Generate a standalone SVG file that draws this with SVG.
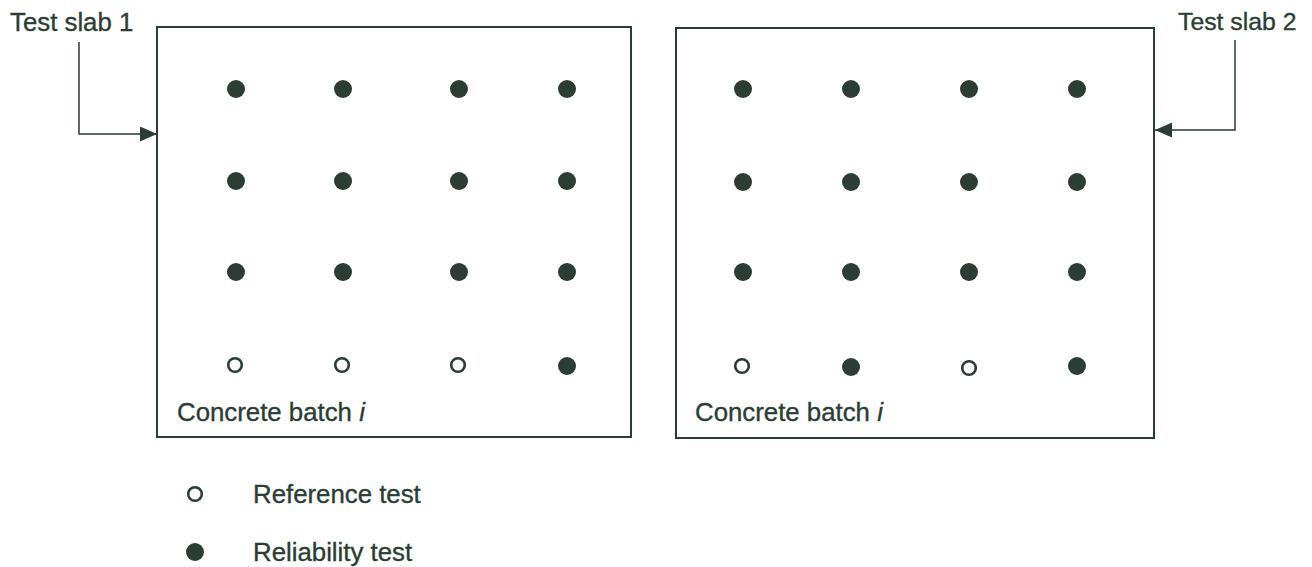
<svg xmlns="http://www.w3.org/2000/svg" width="1312" height="567" viewBox="0 0 1312 567">
  <defs>
    <style>
      .slab { fill: none; stroke: #2b3d35; stroke-width: 2; }
      .lbl { font-family: "Liberation Sans", Arial, sans-serif; font-size: 25.8px; fill: #2b3d35; stroke: #2b3d35; stroke-width: 0.35; }
      .rel { fill: #2b3d35; }
      .ref { fill: #ffffff; stroke: #2b3d35; stroke-width: 2.6; }
      .lead { fill: none; stroke: #2b3d35; stroke-width: 1.5; }
    </style>
    <marker id="ah" markerWidth="17" markerHeight="15" refX="17" refY="7.5" orient="auto" markerUnits="userSpaceOnUse">
      <path d="M0,0 L17,7.5 L0,15 Z" fill="#2b3d35"/>
    </marker>
  </defs>
  <rect width="1312" height="567" fill="#ffffff"/>

  <!-- Test slab 1 -->
  <g id="slab1">
    <rect class="slab" x="157" y="27" width="474" height="410"/>
    <g>
      <circle class="rel" cx="236" cy="89" r="9"/><circle class="rel" cx="343" cy="89" r="9"/><circle class="rel" cx="459" cy="89" r="9"/><circle class="rel" cx="567" cy="89" r="9"/>
      <circle class="rel" cx="236" cy="181" r="9"/><circle class="rel" cx="343" cy="181" r="9"/><circle class="rel" cx="459" cy="181" r="9"/><circle class="rel" cx="567" cy="181" r="9"/>
      <circle class="rel" cx="236" cy="272" r="9"/><circle class="rel" cx="343" cy="272" r="9"/><circle class="rel" cx="459" cy="272" r="9"/><circle class="rel" cx="567" cy="272" r="9"/>
      <circle class="ref" cx="235" cy="365" r="6.8"/><circle class="ref" cx="342" cy="365" r="6.8"/><circle class="ref" cx="458" cy="365" r="6.8"/><circle class="rel" cx="567" cy="366" r="9"/>
    </g>
    <text class="lbl" x="177" y="421">Concrete batch <tspan font-style="italic">i</tspan></text>
  </g>

  <!-- Test slab 2 -->
  <g id="slab2">
    <rect class="slab" x="676" y="28" width="478" height="410"/>
    <g>
      <circle class="rel" cx="743" cy="89" r="9"/><circle class="rel" cx="851" cy="89" r="9"/><circle class="rel" cx="969" cy="89" r="9"/><circle class="rel" cx="1077" cy="89" r="9"/>
      <circle class="rel" cx="743" cy="182" r="9"/><circle class="rel" cx="851" cy="182" r="9"/><circle class="rel" cx="969" cy="182" r="9"/><circle class="rel" cx="1077" cy="182" r="9"/>
      <circle class="rel" cx="743" cy="272" r="9"/><circle class="rel" cx="851" cy="272" r="9"/><circle class="rel" cx="969" cy="272" r="9"/><circle class="rel" cx="1077" cy="272" r="9"/>
      <circle class="ref" cx="742" cy="366" r="6.8"/><circle class="rel" cx="851" cy="367" r="9"/><circle class="ref" cx="969" cy="368" r="6.8"/><circle class="rel" cx="1077" cy="366" r="9"/>
    </g>
    <text class="lbl" x="695" y="421">Concrete batch <tspan font-style="italic">i</tspan></text>
  </g>

  <!-- Slab labels -->
  <g id="label1">
    <text class="lbl" x="10" y="31">Test slab 1</text>
  </g>
  <g id="label2">
    <text class="lbl" x="1178" y="30" style="font-size:24.8px">Test slab 2</text>
  </g>

  <!-- Leader arrows -->
  <g id="connectors">
    <path class="lead" d="M79,42 V134 H157" marker-end="url(#ah)"/>
    <path class="lead" d="M1235,40 V130 H1155" marker-end="url(#ah)"/>
  </g>

  <!-- Legend -->
  <g id="legend">
    <circle class="ref" cx="195" cy="494" r="6.8"/>
    <text class="lbl" x="253" y="503">Reference test</text>
    <circle class="rel" cx="195" cy="552" r="9"/>
    <text class="lbl" x="253" y="561">Reliability test</text>
  </g>
</svg>
